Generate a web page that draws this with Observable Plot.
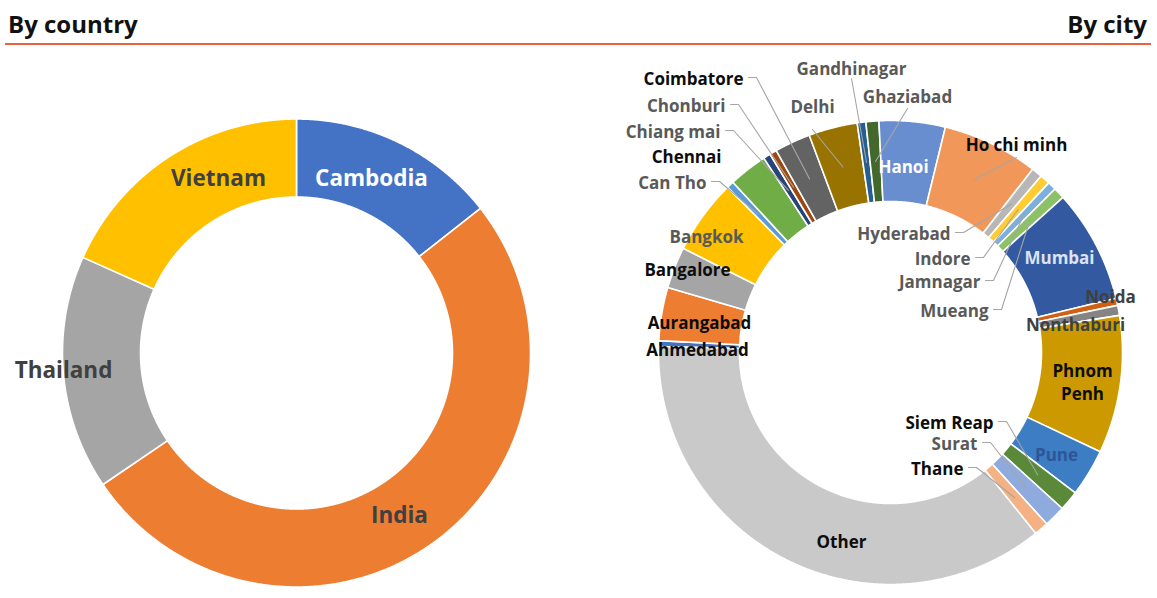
<!DOCTYPE html>
<html>
<head>
<meta charset="utf-8">
<script src="https://cdn.jsdelivr.net/npm/d3@7"></script>
<script src="https://cdn.jsdelivr.net/npm/@observablehq/plot@0.6"></script>
<style>
  html, body { margin: 0; padding: 0; background: #fff; }
  body { width: 1157px; height: 598px; overflow: hidden; font-family: "Open Sans", sans-serif; }
  #header { position: relative; width: 1157px; height: 48px; }
  #header .t { position: absolute; top: 7px; font-size: 24px; font-weight: 700; color: #111; letter-spacing: 0px; line-height: 34px; }
  #header .l { left: 8px; }
  #header .r { right: 10px; }
  #header .rule { position: absolute; left: 5px; right: 6px; top: 43px; height: 2px; background: #e8623f; }
  #chart svg { display: block; }
</style>
</head>
<body>
<div id="header">
  <span class="t l">By country</span>
  <span class="t r">By city</span>
  <div class="rule"></div>
</div>
<div id="chart"></div>
<script>
// ---------- data (shares, %) ----------
const countries = ["Cambodia", "India", "Thailand", "Vietnam"];
const countryShare = [14.4, 51.1, 16.2, 18.3];

const cities = ["Ahmedabad", "Aurangabad", "Bangalore", "Bangkok", "Can Tho", "Chennai",
  "Chiang mai", "Chonburi", "Coimbatore", "Delhi", "Gandhinagar", "Ghaziabad", "Hanoi",
  "Ho chi minh", "Hyderabad", "Indore", "Jamnagar", "Mueang", "Mumbai", "Noida",
  "Nonthaburi", "Phnom Penh", "Pune", "Siem Reap", "Surat", "Thane", "Other"];
const cityShare = [0.4, 3.7, 2.9, 5.2, 0.5, 2.7,
  0.5, 0.5, 2.5, 3.4, 0.6, 0.9, 4.6,
  6.7, 0.75, 0.7, 0.6, 0.8, 7.9, 0.5,
  0.7, 9.6, 3.3, 1.4, 1.5, 1.0, 36.2];

// ---------- styles ----------
const countryColors = ["#4472c4", "#ed7d31", "#a5a5a5", "#ffc000"];
const cityColors = ["#4472c4", "#ed7d31", "#a5a5a5", "#ffc000", "#5b9bd5", "#70ad47",
  "#264478", "#9e480e", "#636363", "#997300", "#255e91", "#43682b", "#698ed0",
  "#f1975a", "#b7b7b7", "#ffcd33", "#7cafdd", "#8cc168", "#335aa1", "#d26012",
  "#848484", "#cc9a00", "#3c7dc4", "#5a8a39", "#8faadc", "#f4b183", "#c9c9c9"];

// ---------- layout ----------
const TOP = 48, W = 1157, H = 598 - TOP;
const left = {cx: 296, cy: 352.5, R: 234, r: 156, start: 0};
const right = {cx: 890, cy: 352, R: 232, r: 151, start: 271.5};

const countryLabels = {
  "Cambodia": {x: 371, y: 176, color: "#ffffff"},
  "Vietnam": {x: 218, y: 176, color: "#404040"},
  "Thailand": {x: 63, y: 368, color: "#404040"},
  "India": {x: 399, y: 513, color: "#404040"}
};
const cityLabels = {
  "Coimbatore": {x: 743, y: 77, a: "end", color: "#0d0d0d", lead: "right"},
  "Chonburi": {x: 725, y: 104, a: "end", color: "#595959", lead: "right"},
  "Chiang mai": {x: 720, y: 130, a: "end", color: "#595959", lead: "right"},
  "Chennai": {x: 721, y: 155, a: "end", color: "#0d0d0d"},
  "Can Tho": {x: 706, y: 181, a: "end", color: "#595959", lead: "right"},
  "Bangkok": {x: 706, y: 235, color: "#595959"},
  "Bangalore": {x: 687, y: 268, color: "#0d0d0d"},
  "Aurangabad": {x: 699, y: 321, color: "#0d0d0d"},
  "Ahmedabad": {x: 697, y: 348, color: "#0d0d0d"},
  "Gandhinagar": {x: 851, y: 67, color: "#595959", lead: "below", dy: 11},
  "Ghaziabad": {x: 907, y: 95, color: "#595959", lead: "below", dy: 13},
  "Delhi": {x: 812, y: 105, color: "#595959", lead: "below", dy: 24},
  "Hanoi": {x: 903, y: 165, color: "#ffffff"},
  "Ho chi minh": {x: 1016, y: 143, color: "#0d0d0d", lead: "below", dy: 14},
  "Hyderabad": {x: 950, y: 232, a: "end", color: "#595959", lead: "right"},
  "Indore": {x: 970, y: 257, a: "end", color: "#595959", lead: "right"},
  "Jamnagar": {x: 980, y: 280, a: "end", color: "#595959", lead: "right"},
  "Mueang": {x: 988, y: 309, a: "end", color: "#595959", lead: "right"},
  "Mumbai": {x: 1059, y: 256, color: "#dae3f3"},
  "Noida": {x: 1110, y: 295, color: "#404040"},
  "Nonthaburi": {x: 1075, y: 323, color: "#404040"},
  "Phnom Penh": {x: 1082, y: 381, color: "#0d0d0d", text: "Phnom\nPenh"},
  "Pune": {x: 1056, y: 453, color: "#2f5597"},
  "Siem Reap": {x: 993, y: 421, a: "end", color: "#0d0d0d", lead: "right"},
  "Surat": {x: 977, y: 442, a: "end", color: "#595959", lead: "right"},
  "Thane": {x: 963, y: 467, a: "end", color: "#0d0d0d", lead: "right"},
  "Other": {x: 841, y: 540, color: "#0d0d0d"}
};

// ---------- geometry from the values ----------
function slices(names, shares, colors, g) {
  const total = d3.sum(shares);
  let a = g.start;
  return names.map((name, i) => {
    const a0 = a, a1 = a + shares[i] / total * 360;
    a = a1;
    return {name, a0, a1, mid: (a0 + a1) / 2, color: colors[i], g};
  });
}
const pt = (g, r, deg) => {
  const t = deg * Math.PI / 180;
  return [g.cx + r * Math.sin(t), g.cy - r * Math.cos(t)];
};
function ring(s) {
  const {g, a0, a1} = s;
  const n = Math.max(2, Math.ceil((a1 - a0) / 0.25));
  const pts = [];
  for (let k = 0; k <= n; k++) pts.push(pt(g, g.R, a0 + (a1 - a0) * k / n));
  for (let k = n; k >= 0; k--) pts.push(pt(g, g.r, a0 + (a1 - a0) * k / n));
  return pts.map(([x, y]) => ({x, y, name: s.name, color: s.color}));
}

const countrySlices = slices(countries, countryShare, countryColors, left);
const citySlices = slices(cities, cityShare, cityColors, right);
const polys = [...countrySlices, ...citySlices].flatMap(ring);

const labels = [
  ...countrySlices.map(s => ({...countryLabels[s.name], text: s.name, size: 22.5, a: "middle"})),
  ...citySlices.map(s => ({a: "middle", text: s.name, ...cityLabels[s.name], size: 17, slice: s}))
];

const leaders = citySlices.flatMap(s => {
  const L = cityLabels[s.name];
  if (!L || !L.lead) return [];
  const end = pt(right, (right.R + right.r) / 2, s.mid);
  const pts = L.lead === "right"
    ? [[L.x + 5, L.y], [L.x + 13, L.y], end]
    : [[L.x, L.y + L.dy], end];
  return pts.map(([x, y]) => ({x, y, name: s.name}));
});

const labelGroups = d3.groups(labels, d => d.color + "|" + d.size + "|" + d.a);

const chart = Plot.plot({
  width: W,
  height: H,
  margin: 0,
  x: {domain: [0, W], range: [0, W], axis: null},
  y: {domain: [TOP, 598], range: [0, H], axis: null},
  color: {type: "identity"},
  style: {fontFamily: "'Open Sans', sans-serif", background: "#fff"},
  marks: [
    Plot.line(polys, {x: "x", y: "y", z: "name", fill: "color", stroke: "#ffffff",
      strokeWidth: 1.6, curve: "linear-closed"}),
    Plot.line(leaders, {x: "x", y: "y", z: "name", stroke: "#a6a6a6", strokeWidth: 1.1}),
    ...labelGroups.map(([key, rows]) => {
      const [color, size, anchor] = key.split("|");
      return Plot.text(rows, {x: "x", y: "y", text: "text", fill: color,
        fontSize: +size, fontWeight: 700, textAnchor: anchor, lineHeight: 1.35});
    })
  ]
});
document.getElementById("chart").appendChild(chart);
</script>
</body>
</html>
